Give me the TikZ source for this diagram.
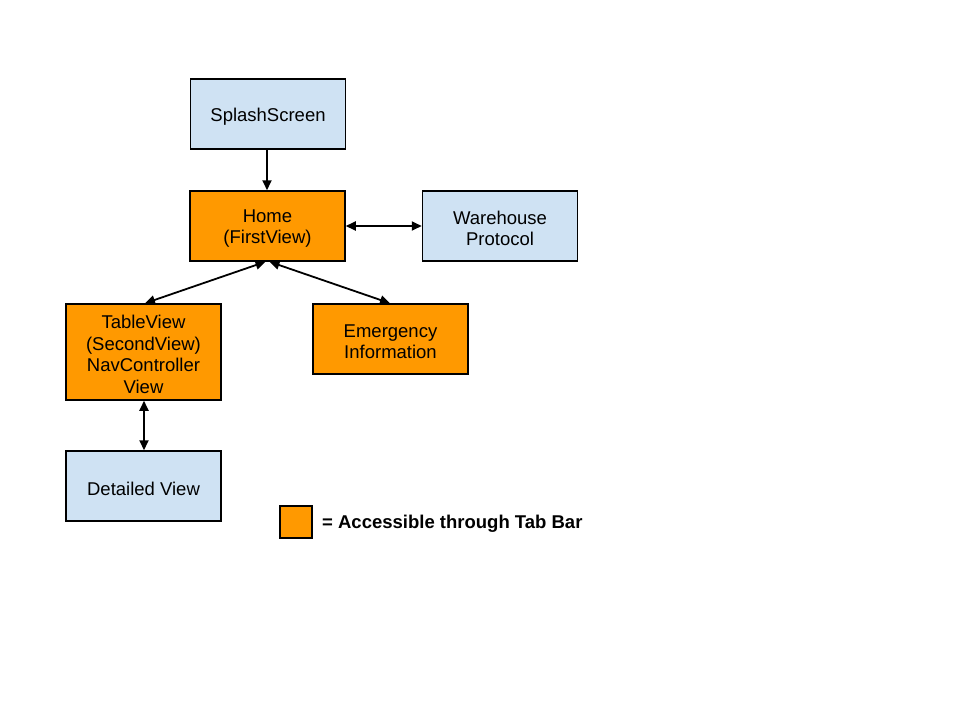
\documentclass[tikz,border=0pt]{standalone}
\usepackage{fontspec}
\setmainfont{Liberation Sans}
\usetikzlibrary{arrows.meta}
\definecolor{paleblue}{HTML}{CFE2F3}
\definecolor{taborange}{HTML}{FF9900}
\begin{document}
\begin{tikzpicture}[x=1pt,y=-1pt,
  box/.style={draw=black,line width=1.5pt,minimum width=155pt,minimum height=70pt,inner sep=0pt},
  screen/.style={box,fill=paleblue},
  tabscreen/.style={box,fill=taborange},
  txt/.style={align=center,inner sep=0pt,yshift=-2.5pt,font=\fontsize{18.5}{21.5}\selectfont},
  link/.style={line width=1.8pt,{Triangle[length=10pt,width=9pt]}-{Triangle[length=10pt,width=9pt]}},
  oneway/.style={line width=1.8pt,-{Triangle[length=10pt,width=9pt]}}]
\useasboundingbox[fill=white] (0,0) rectangle (960,720);

\node[screen,label={[txt]center:SplashScreen}] (splash) at (268,114) {};
\node[tabscreen,label={[txt]center:Home\\(FirstView)}] (home) at (267.5,226) {};
\node[screen,label={[txt]center:Warehouse\\Protocol}] (ware) at (500,226) {};
\node[tabscreen,minimum height=96pt,label={[txt]center:TableView\\(SecondView)\\NavController\\View}] (table) at (143.5,352) {};
\node[tabscreen,label={[txt]center:Emergency\\Information}] (emerg) at (390.5,339) {};
\node[screen,label={[txt]center:Detailed View}] (detail) at (143.5,486) {};

\draw[oneway] ([xshift=-1pt]splash.south) -- ([xshift=-0.5pt]home.north);
\draw[link] (home.east) -- (ware.west);
\draw[link] ([xshift=-2pt]home.south) -- ([xshift=1.5pt]table.north);
\draw[link] ([xshift=2pt]home.south) -- ([xshift=-0.5pt]emerg.north);
\draw[link] ([xshift=0.5pt]table.south) -- ([xshift=0.5pt]detail.north);

\node[draw=black,line width=1.5pt,fill=taborange,minimum size=32pt,inner sep=0pt] (key) at (296,522) {};
\node[anchor=west,font=\fontsize{18.5}{21.5}\selectfont\bfseries,inner sep=0pt,yshift=-2pt] (keytext) at (322,522) {= Accessible through Tab Bar};
\end{tikzpicture}
\end{document}
